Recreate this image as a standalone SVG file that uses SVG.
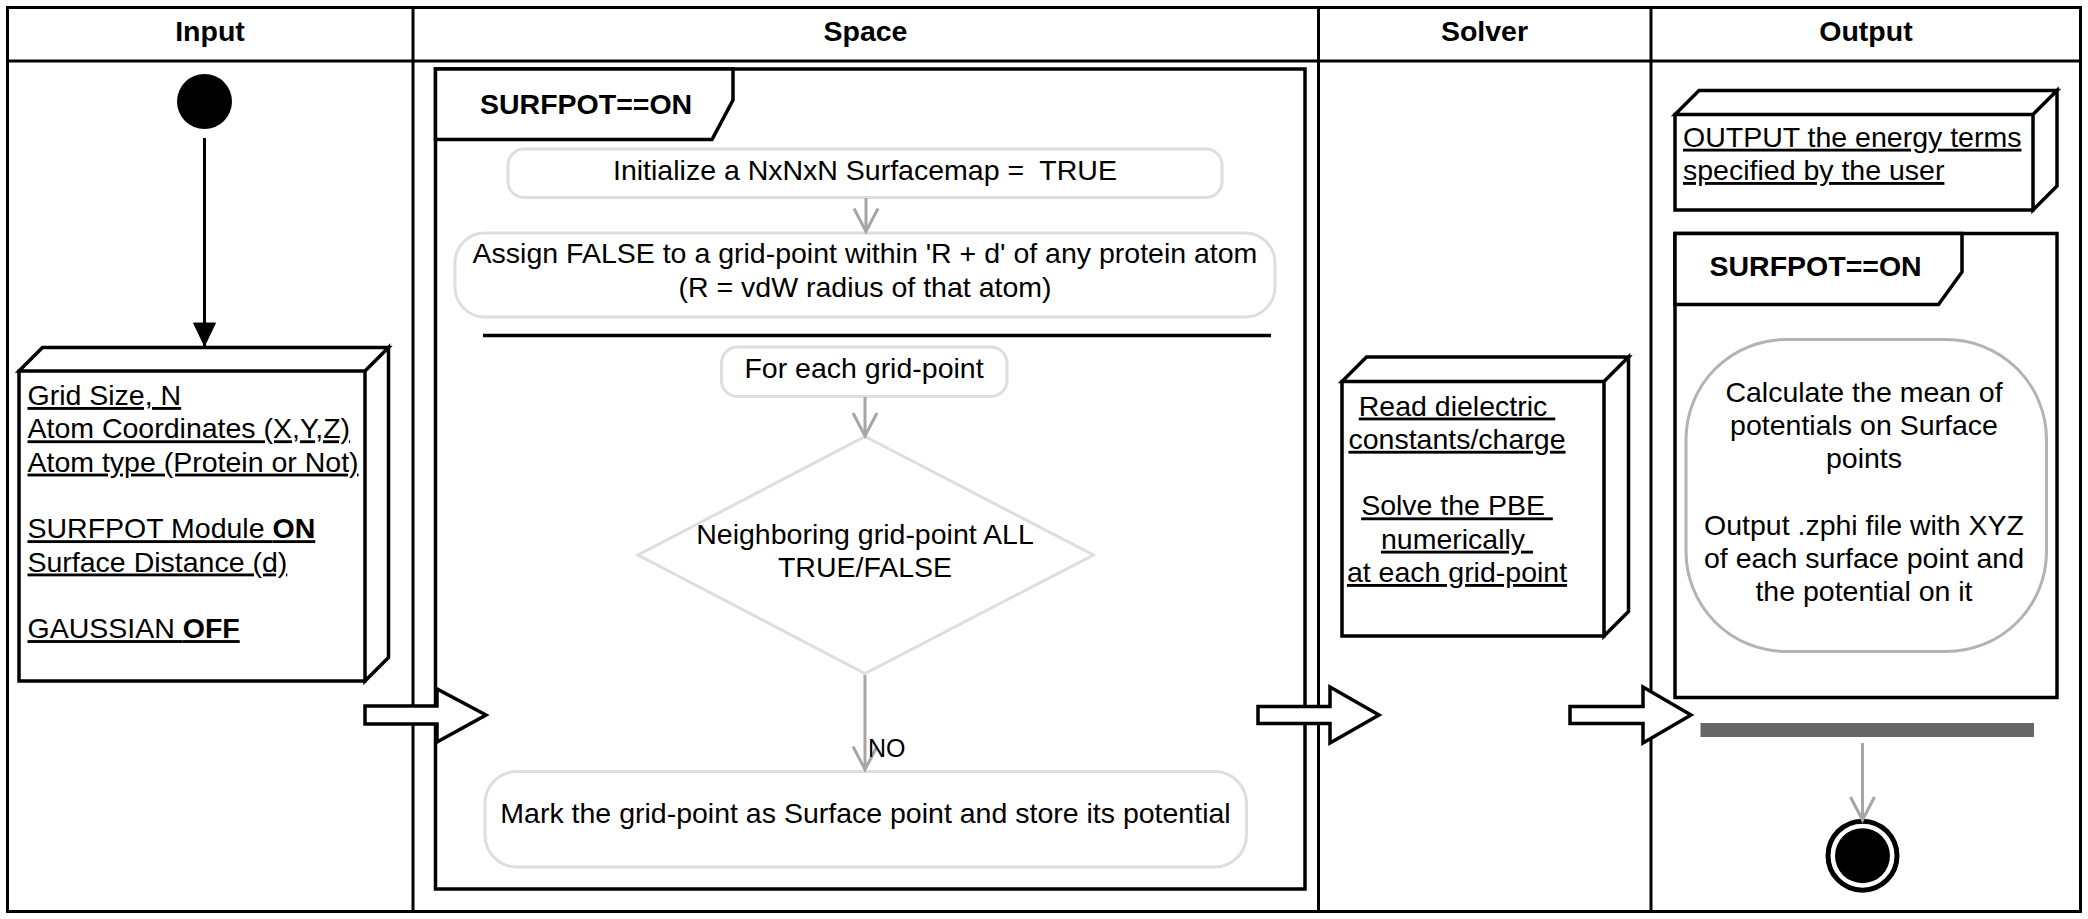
<svg xmlns="http://www.w3.org/2000/svg" width="2088" height="919" viewBox="0 0 2088 919">
<defs>
<style>
text{font-family:"Liberation Sans",Arial,Helvetica,sans-serif;font-size:28.5px;fill:#000}
.b{font-weight:bold}
.c{text-anchor:middle}
.u{text-decoration:underline}
.pre{white-space:pre}
.lane{fill:none;stroke:#000;stroke-width:3}
.frame{fill:none;stroke:#000;stroke-width:3.5}
.lbl{fill:#fff;stroke:#000;stroke-width:3.5;stroke-linejoin:miter}
.act{fill:#fff;stroke:#dedede;stroke-width:3}
.box{fill:#fff;stroke:#000;stroke-width:3.5;stroke-linejoin:miter}
.blk{fill:#fff;stroke:#000;stroke-width:3.5;stroke-linejoin:miter}
.gc{fill:none;stroke:#a6a6a6;stroke-width:3}
</style>
<marker id="open" markerUnits="userSpaceOnUse" orient="auto" refX="0" refY="0" markerWidth="40" markerHeight="40" viewBox="-30 -20 40 40" overflow="visible">
<path d="M -23 -12 L 0 0 L -23 12" fill="none" stroke="#a6a6a6" stroke-width="3"/>
</marker>
<marker id="filled" markerUnits="userSpaceOnUse" orient="auto" refX="0" refY="0" markerWidth="40" markerHeight="40" viewBox="-30 -20 40 40" overflow="visible">
<path d="M -23 -11 L 0 0 L -23 11 Z" fill="#000" stroke="#000" stroke-width="1"/>
</marker>
</defs>
<rect width="2088" height="919" fill="#fff"/>

<g id="lanes">
<rect class="lane" x="7.5" y="7.5" width="2073" height="904"/>
<line class="lane" x1="7.5" y1="61" x2="2080.5" y2="61"/>
<line class="lane" x1="413" y1="7.5" x2="413" y2="911.5"/>
<line class="lane" x1="1318.5" y1="7.5" x2="1318.5" y2="911.5"/>
<line class="lane" x1="1651" y1="7.5" x2="1651" y2="911.5"/>
<text class="b c" x="210" y="41">Input</text>
<text class="b c" x="865.5" y="41">Space</text>
<text class="b c" x="1484.5" y="41">Solver</text>
<text class="b c" x="1866" y="41">Output</text>
</g>

<g id="frame-space">
<rect class="frame" x="435.5" y="69" width="869.5" height="820"/>
<path class="lbl" d="M435.5 69 L733 69 L733 100 L712 139.5 L435.5 139.5 Z"/>
<text class="b" x="480" y="113.5">SURFPOT==ON</text>
</g>

<g id="frame-output">
<rect class="frame" x="1675" y="233.5" width="382" height="464"/>
<path class="lbl" d="M1675 233.5 L1962 233.5 L1962 272 L1938.5 304.5 L1675 304.5 Z"/>
<text class="b" x="1709.5" y="276">SURFPOT==ON</text>
</g>

<g id="start">
<circle cx="204.5" cy="101.5" r="27.5" fill="#000"/>
</g>

<g id="input-box">
<path class="box" d="M19 371 L365 371 L365 681 L19 681 Z M19 371 L42.5 347.5 L388.5 347.5 L365 371 Z M365 371 L388.5 347.5 L388.5 657.5 L365 681 Z"/>
<text class="u" x="27.5" y="405">Grid Size, N</text>
<text class="u" x="27.5" y="438.3">Atom Coordinates (X,Y,Z)</text>
<text class="u" x="27.5" y="471.6">Atom type (Protein or Not)</text>
<text class="u" x="27.5" y="538.2">SURFPOT Module <tspan class="b">ON</tspan></text>
<text class="u" x="27.5" y="571.5">Surface Distance (d)</text>
<text class="u" x="27.5" y="638.1">GAUSSIAN <tspan class="b">OFF</tspan></text>
</g>

<g id="init">
<rect class="act" x="508" y="149" width="714" height="48.5" rx="16"/>
<text class="c pre" x="865" y="180">Initialize a NxNxN Surfacemap =  TRUE</text>
</g>

<g id="assign">
<rect class="act" x="455" y="233" width="820" height="84" rx="30"/>
<text class="c" x="865" y="263.3">Assign FALSE to a grid-point within 'R + d' of any protein atom</text>
<text class="c" x="865" y="296.7">(R = vdW radius of that atom)</text>
</g>

<g id="fork">
<line x1="483" y1="335.5" x2="1271" y2="335.5" stroke="#000" stroke-width="3.5"/>
</g>

<g id="foreach">
<rect class="act" x="721.5" y="347" width="285.5" height="49.5" rx="16"/>
<text class="c" x="864" y="378">For each grid-point</text>
</g>

<g id="decision">
<polygon class="act" points="865,436.5 1093.5,555 865,673.5 638,555"/>
<text class="c" x="865" y="544">Neighboring grid-point ALL</text>
<text class="c" x="865" y="577">TRUE/FALSE</text>
</g>

<g id="mark">
<rect class="act" x="485" y="771.5" width="761.5" height="95.5" rx="32"/>
<text class="c" x="865.5" y="823">Mark the grid-point as Surface point and store its potential</text>
</g>

<g id="solver-box">
<path class="box" d="M1342 381.5 L1604 381.5 L1604 636 L1342 636 Z M1342 381.5 L1366.5 357 L1628.5 357 L1604 381.5 Z M1604 381.5 L1628.5 357 L1628.5 611.5 L1604 636 Z"/>
<text class="c u pre" x="1457" y="415.5">Read dielectric </text>
<text class="c u" x="1457" y="448.8">constants/charge</text>
<text class="c u pre" x="1457" y="515.4">Solve the PBE </text>
<text class="c u pre" x="1457" y="548.7">numerically </text>
<text class="c u" x="1457" y="582">at each grid-point</text>
</g>

<g id="output-box">
<path class="box" d="M1675 114.5 L2033 114.5 L2033 210 L1675 210 Z M1675 114.5 L1699 90.5 L2057 90.5 L2033 114.5 Z M2033 114.5 L2057 90.5 L2057 186 L2033 210 Z"/>
<text class="u" x="1683" y="146.7">OUTPUT the energy terms</text>
<text class="u" x="1683" y="180">specified by the user</text>
</g>

<g id="calculate">
<rect x="1686" y="339.5" width="360.5" height="312" rx="100" ry="100" fill="#fff" stroke="#b3b3b3" stroke-width="3"/>
<text class="c" x="1864" y="401.5">Calculate the mean of</text>
<text class="c" x="1864" y="434.8">potentials on Surface</text>
<text class="c" x="1864" y="468.1">points</text>
<text class="c" x="1864" y="534.7">Output .zphi file with XYZ</text>
<text class="c" x="1864" y="568">of each surface point and</text>
<text class="c" x="1864" y="601.3">the potential on it</text>
</g>

<g id="join">
<rect x="1700.5" y="723" width="333.5" height="14" fill="#666"/>
</g>

<g id="end">
<circle cx="1862.5" cy="855.7" r="34.5" fill="#fff" stroke="#000" stroke-width="5"/>
<circle cx="1862.5" cy="855.7" r="27.5" fill="#000"/>
</g>

<g id="connectors">
<line x1="204.5" y1="138" x2="204.5" y2="346" stroke="#000" stroke-width="3" marker-end="url(#filled)"/>
<line class="gc" x1="866" y1="198" x2="866" y2="231.5" marker-end="url(#open)"/>
<line class="gc" x1="865" y1="397" x2="865" y2="436" marker-end="url(#open)"/>
<line class="gc" x1="865" y1="675" x2="865" y2="769.5" marker-end="url(#open)"/>
<text x="868" y="757" style="font-size:25px">NO</text>
<line class="gc" x1="1862.5" y1="743" x2="1862.5" y2="820" marker-end="url(#open)"/>
<polygon class="blk" points="365,706 437,706 437,689 486,715 437,742 437,724 365,724"/>
<polygon class="blk" points="1258,706.5 1330,706.5 1330,687 1379,715 1330,743 1330,723.5 1258,723.5"/>
<polygon class="blk" points="1570,706.5 1643,706.5 1643,687 1691,715 1643,743 1643,723.5 1570,723.5"/>
</g>
</svg>
